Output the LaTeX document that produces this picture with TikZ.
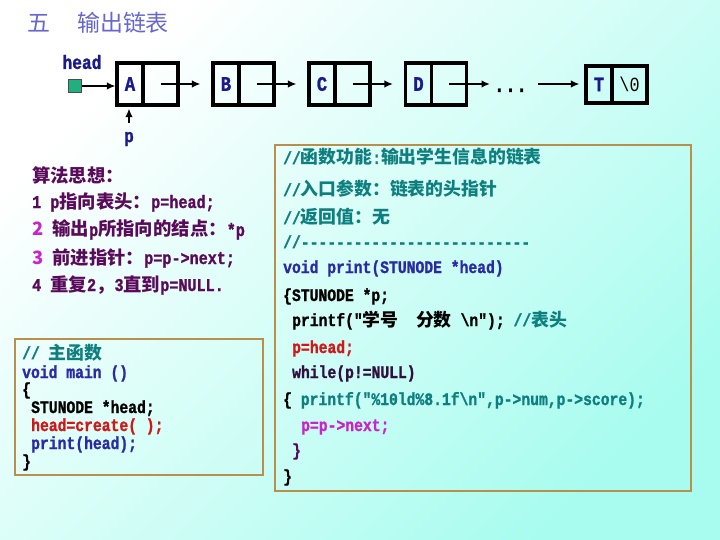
\documentclass[tikz,border=0pt]{standalone}
\usepackage{fontspec}
\setmonofont{Liberation Mono}[FakeStretch=0.84, BoldFeatures={FakeBold=1.2}]
\newfontfamily\cjk[Scale=1.02]{Noto Sans CJK SC}
\usetikzlibrary{arrows.meta}
\definecolor{bgB}{HTML}{A8FCEF}
\definecolor{navy}{HTML}{1A1A8C}
\definecolor{tealc}{HTML}{0E7F7F}
\definecolor{codeblue}{HTML}{2A2AA5}
\definecolor{redc}{HTML}{D01818}
\definecolor{mag}{HTML}{CC22CC}
\definecolor{algoc}{HTML}{5A0A5A}
\definecolor{darkc}{HTML}{301040}
\definecolor{boxc}{HTML}{B8904C}
\definecolor{sqc}{HTML}{20B080}
\definecolor{titlec}{HTML}{6666CC}
\newcommand\zh[1]{{\cjk #1}}
\begin{document}
\begin{tikzpicture}[x=1pt,y=-1pt,
  cell/.style={draw=black, line width=3.1pt, minimum height=42pt, inner sep=0pt,
    font=\fontsize{20.5}{20.5}\selectfont\ttfamily\bfseries, text=navy},
  cellL/.style={cell, minimum width=26pt},
  cellR/.style={cell, minimum width=35pt},
  arr/.style={-{Latex[length=8.5pt,width=7.5pt]}, line width=2.5pt},
  code/.style={anchor=base west, inner sep=0pt, font=\fontsize{17.5}{18}\selectfont\ttfamily\bfseries},
  algo/.style={anchor=base west, inner sep=0pt, font=\fontsize{18}{19}\selectfont\ttfamily\bfseries, text=algoc},
  codebox/.style={draw=boxc, line width=1.3pt},
  ttl/.style={font=\cjk\fontsize{22.5}{22.5}\selectfont, text=titlec, inner sep=0pt}
]
\useasboundingbox (0,0) rectangle (720,540);
\shade[top color=white, bottom color=bgB, shading angle=45] (0,0) rectangle (720,540);

% title
\node[ttl] (t1) at (39,23) {五};
\node[ttl] (t2) at (123,23) {输出链表};

% linked list
\node[font=\fontsize{19.3}{19.3}\selectfont\ttfamily\bfseries, text=navy, inner sep=0pt] (headlbl) at (82,62) {head};
\node[draw=black!70, fill=sqc, minimum size=13pt, inner sep=0pt, line width=0.8pt] (hd) at (75,86) {};

\node[cellL] (Av) at (130,84) {A};
\node[cellR] (An) at (160.5,84) {};
\node[cellL] (Bv) at (226,84) {B};
\node[cellR] (Bn) at (256.5,84) {};
\node[cellL] (Cv) at (322,84) {C};
\node[cellR] (Cn) at (352.5,84) {};
\node[cellL] (Dv) at (418.5,84) {D};
\node[cellR] (Dn) at (449,84) {};
\node[cellL, minimum height=37pt] (Tv) at (599,84.5) {T};
\node[cellR, minimum height=37pt, font=\fontsize{20}{20}\selectfont\ttfamily, text=black] (Tn) at (629.5,84.5) {\textbackslash 0};

\node[font=\fontsize{22}{22}\selectfont\ttfamily\bfseries, anchor=base, inner sep=0pt] (dots) at (510.5,92) {...};
\coordinate (d1) at (490,84);
\coordinate (d2) at (538,84);

\draw[arr] (hd.east) -- (hd.east -| Av.west);
\draw[arr, shorten >=11pt] (An.center) -- (Bv.west);
\draw[arr, shorten >=11pt] (Bn.center) -- (Cv.west);
\draw[arr, shorten >=11pt] (Cn.center) -- (Dv.west);
\draw[arr] (Dn.center) -- (d1);
\draw[arr, shorten >=5pt] (d2) -- (d2 -| Tv.west);

\node[font=\fontsize{19}{19}\selectfont\ttfamily\bfseries, text=navy, inner sep=0pt] (p) at (129,139) {p};
\draw[arr, shorten >=2pt] ([yshift=9pt]p.north) -- (p.north |- Av.south);

% algorithm
\node[algo] (al0) at (32,183) {\zh{算法思想：}};
\node[algo] (al1) at (32,208) {1 p\zh{指向表头：}p=head;};
\node[algo] (al2) at (32,236) {{\color{mag}\cjk 2} \zh{输出}p\zh{所指向的结点：}*p};
\node[algo] (al3) at (32,264) {{\color{mag}\cjk 3} \zh{前进指针：}p=p->next;};
\node[algo] (al4) at (32,291) {4 \zh{重复}2\zh{，}3\zh{直到}p=NULL.};

% main box
\draw[codebox] (15,339) rectangle (263,475);
\node[code, text=tealc] (m1) at (22,359) {// \zh{主函数}};
\node[code, text=codeblue] (m2) at (22,378) {void main ()};
\node[code] (m3) at (22,395) {\{};
\node[code] (m4) at (31,413) {STUNODE *head;};
\node[code, text=redc] (m5) at (31,431) {head=create( );};
\node[code, text=codeblue] (m6) at (31,449) {print(head);};
\node[code] (m7) at (22,467) {\}};

% print box
\draw[codebox] (275,145) rectangle (691,491);
\node[code, text=tealc] (r1) at (283,164) {//\zh{函数功能}:\zh{输出学生信息的链表}};
\node[code, text=tealc] (r2) at (283,196) {//\zh{入口参数：链表的头指针}};
\node[code, text=tealc] (r3) at (283,224) {//\zh{返回值：无}};
\node[code, text=tealc] (r4) at (283,248) {//--------------------------};
\node[code, text=codeblue] (r5) at (283,273) {void print(STUNODE *head)};
\node[code] (r6) at (283,301) {\{STUNODE *p;};
\node[code] (r7) at (292,326) {printf("\zh{学号}\ \ \zh{分数} \textbackslash n"); {\color{tealc}//\zh{表头}}};
\node[code, text=redc] (r8) at (292,353) {p=head;};
\node[code, text=darkc] (r9) at (292,378) {while(p!=NULL)};
\node[code] (r10) at (283,405) {\{ {\color{tealc}printf("\%10ld\%8.1f\textbackslash n",p->num,p->score);}};
\node[code, text=mag] (r11) at (301,431) {p=p->next;};
\node[code, text=algoc] (r12) at (292,456) {\}};
\node[code] (r13) at (283,482) {\}};
\end{tikzpicture}
\end{document}
